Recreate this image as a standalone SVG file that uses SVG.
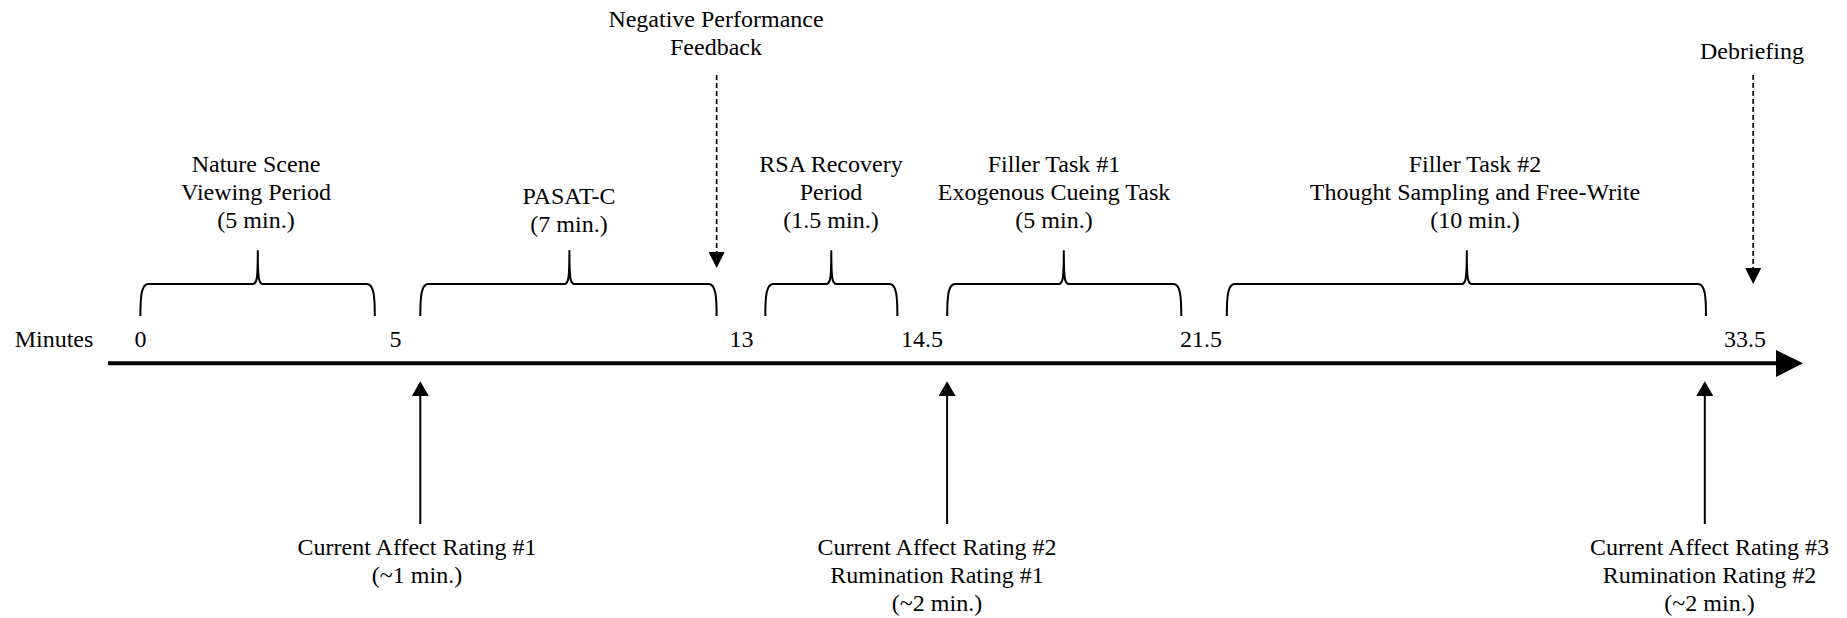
<svg xmlns="http://www.w3.org/2000/svg" width="1847" height="618" viewBox="0 0 1847 618">
  <style>
    text { font-family: "Liberation Serif", "Times New Roman", serif; font-size: 24px; fill: #000; text-anchor: middle; }
    .brace { fill: none; stroke: #000; stroke-width: 2; stroke-linejoin: round; }
    .dashed { stroke: #000; stroke-width: 1.6; stroke-dasharray: 5 3; fill: none; }
    .solid { stroke: #000; stroke-width: 2; fill: none; }
  </style>
  <defs>
    <marker id="headDown" markerUnits="userSpaceOnUse" markerWidth="16" markerHeight="16" refX="0" refY="7.5" orient="auto" viewBox="0 0 15 15">
      <path d="M0,0 L15,7.5 L0,15 Z" fill="#000"/>
    </marker>
    <marker id="headUp" markerUnits="userSpaceOnUse" markerWidth="15" markerHeight="17" refX="0" refY="8" orient="auto" viewBox="0 0 14 16">
      <path d="M0,0 L14,8 L0,16 Z" fill="#000"/>
    </marker>
  </defs>
  <rect width="1847" height="618" fill="#fff"/>

  <!-- time axis -->
  <g id="axis">
    <line x1="108" y1="363.3" x2="1778" y2="363.3" stroke="#000" stroke-width="4"/>
    <polygon points="1776,350 1803,363.3 1776,377" fill="#000"/>
    <text x="54" y="347">Minutes</text>
    <text x="140.5" y="347">0</text>
    <text x="395.5" y="347">5</text>
    <text x="741.5" y="347">13</text>
    <text x="922" y="347">14.5</text>
    <text x="1201" y="347">21.5</text>
    <text x="1745" y="347">33.5</text>
  </g>

  <!-- phases -->
  <g id="nature-scene">
    <path class="brace" d="M140.4,316 C140.4,296 141.4,284 148.4,284 L252.8,284 C256.8,284 257.8,279 257.8,251 C257.8,279 258.8,284 262.8,284 L366.8,284 C373.8,284 374.8,296 374.8,316"/>
    <text x="256" y="172">Nature Scene</text>
    <text x="256" y="200">Viewing Period</text>
    <text x="256" y="228">(5 min.)</text>
  </g>

  <g id="pasat-c">
    <path class="brace" d="M420.3,316 C420.3,296 421.3,284 428.3,284 L564.4,284 C568.4,284 569.4,279 569.4,251 C569.4,279 570.4,284 574.4,284 L708.6,284 C715.6,284 716.6,296 716.6,316"/>
    <text x="569" y="204">PASAT-C</text>
    <text x="569" y="232">(7 min.)</text>
  </g>

  <g id="rsa-recovery">
    <path class="brace" d="M765.3,316 C765.3,296 766.3,284 773.3,284 L826.3,284 C830.3,284 831.3,279 831.3,251 C831.3,279 832.3,284 836.3,284 L889.4,284 C896.4,284 897.4,296 897.4,316"/>
    <text x="831" y="172">RSA Recovery</text>
    <text x="831" y="200">Period</text>
    <text x="831" y="228">(1.5 min.)</text>
  </g>

  <g id="filler-task-1">
    <path class="brace" d="M947.2,316 C947.2,296 948.2,284 955.2,284 L1058.8,284 C1062.8,284 1063.8,279 1063.8,251 C1063.8,279 1064.8,284 1068.8,284 L1173.3,284 C1180.3,284 1181.3,296 1181.3,316"/>
    <text x="1054" y="172">Filler Task #1</text>
    <text x="1054" y="200">Exogenous Cueing Task</text>
    <text x="1054" y="228">(5 min.)</text>
  </g>

  <g id="filler-task-2">
    <path class="brace" d="M1226.8,316 C1226.8,296 1227.8,284 1234.8,284 L1461.8,284 C1465.8,284 1466.8,279 1466.8,251 C1466.8,279 1467.8,284 1471.8,284 L1698,284 C1705,284 1706,296 1706,316"/>
    <text x="1475" y="172">Filler Task #2</text>
    <text x="1475" y="200">Thought Sampling and Free-Write</text>
    <text x="1475" y="228">(10 min.)</text>
  </g>

  <!-- events -->
  <g id="negative-feedback">
    <text x="716" y="27">Negative Performance</text>
    <text x="716" y="55">Feedback</text>
  </g>

  <g id="debriefing">
    <text x="1752" y="59">Debriefing</text>
  </g>

  <g id="affect-rating-1">
    <text x="417" y="555">Current Affect Rating #1</text>
    <text x="417" y="583">(~1 min.)</text>
  </g>

  <g id="affect-rating-2">
    <text x="937" y="555">Current Affect Rating #2</text>
    <text x="937" y="583">Rumination Rating #1</text>
    <text x="937" y="611">(~2 min.)</text>
  </g>

  <g id="affect-rating-3">
    <text x="1709.5" y="555">Current Affect Rating #3</text>
    <text x="1709.5" y="583">Rumination Rating #2</text>
    <text x="1709.5" y="611">(~2 min.)</text>
  </g>

  <!-- connectors -->
  <g id="connectors">
    <line class="dashed" x1="716.6" y1="75" x2="716.6" y2="252" marker-end="url(#headDown)"/>
    <line class="dashed" x1="1753.2" y1="75" x2="1753.2" y2="268" marker-end="url(#headDown)"/>
    <line class="solid" x1="420.3" y1="524" x2="420.3" y2="396" marker-end="url(#headUp)"/>
    <line class="solid" x1="947.1" y1="524" x2="947.1" y2="396" marker-end="url(#headUp)"/>
    <line class="solid" x1="1704.8" y1="524" x2="1704.8" y2="396" marker-end="url(#headUp)"/>
  </g>
</svg>
